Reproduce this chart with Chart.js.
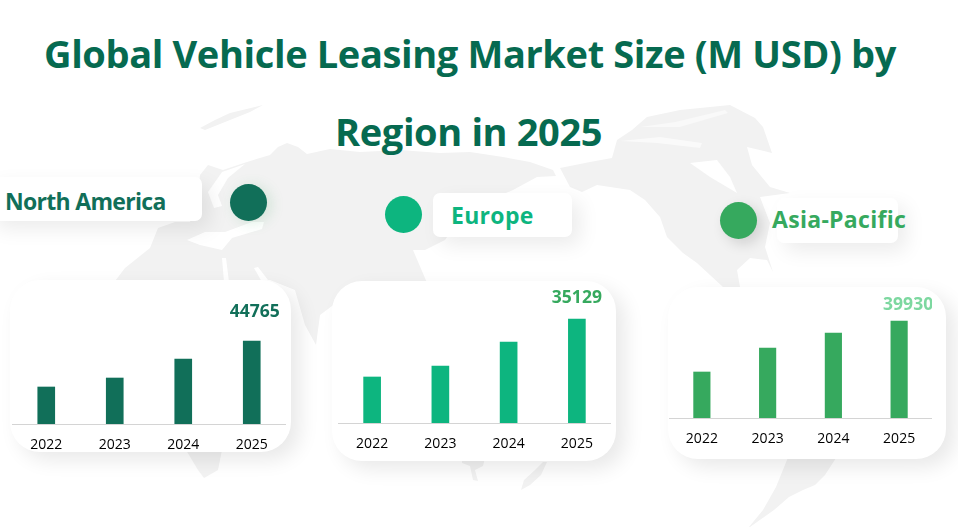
<!DOCTYPE html>
<html><head><meta charset="utf-8">
<script src="https://cdn.jsdelivr.net/npm/chart.js@4"></script>
<style>
html,body{margin:0;padding:0;background:#fff;overflow:hidden}
#root{position:relative;width:958px;height:527px;overflow:hidden;font-family:"Open Sans",sans-serif}
svg.map{position:absolute;left:0;top:0}
.t{position:absolute;white-space:nowrap;font-weight:700;color:#066a50;font-size:38px;line-height:52px;letter-spacing:-.37px}
.card{position:absolute;background:#fff;border-radius:30px;box-shadow:9px 8px 20px rgba(0,0,0,.09)}
.tag{position:absolute;background:#fff;border-radius:7px;box-shadow:8px 8px 20px rgba(0,0,0,.08)}
.lab{position:absolute;white-space:nowrap;font-weight:700;font-size:23px;line-height:30px}
.dot{position:absolute;width:37px;height:37px;border-radius:50%}
canvas{position:absolute}
</style></head><body>
<div id="root">
<svg class="map" width="958" height="527" viewBox="0 0 958 527">
<g fill="#f2f2f2">
<path d="M112 285L125 268 150 248 158 228 175 222 190 222 197 205 200 175 208 165 223 170 235 166 247 162 270 155 278 147 287 143 298 147 307 154 330 149 360 152 400 150 440 153 470 152 503 157 530 162 553 170 556 176 537 177 513 190 490 200 470 205 445 240 425 250 413 250 428 285 340 300 320 315 316 345 305 325 295 290 270 280Z"/>
<path d="M200 128L215 120 230 113 263 105 250 112 225 122 205 130Z"/>
<path d="M186 450L222 450 218 470 204 478 198 470Z"/>
<path d="M462 458L485 458 483 466 475 470 478 481 473 480 470 466 462 463Z"/>
<path d="M547 462L541 475 530 485 521 490 524 480 535 470 543 462Z"/>
<path d="M789 455L838 455 825 475 815 485 803 490 789 497 774 510 750 527 749 527 763 510 776 487Z"/>
<path d="M560 168L590 162 612 158 617 140 632 130 640 123 647 117 680 110 730 105 755 118 763 127 772 153 747 147 752 165 770 187 790 193 760 197 770 223 765 247 773 272 767 260 750 258 737 270 740 287 723 287 697 263 683 253 667 237 660 217 645 200 630 190 597 185 582 192 570 187Z"/>
</g>
<g fill="#fff">
<path d="M690 163L717 160 730 177 737 193 710 177Z"/>
<path d="M187 240L205 232 225 232 252 222 264 222 262 229 232 238 222 250 200 245Z"/>
<path d="M222 258L226 258 229 282 224 282Z"/>
<path d="M254 268L258 267 268 280 262 282Z"/>
<path d="M208 192L222 172 245 164 228 178 218 195 222 206 214 208Z"/>
<path d="M429 270H523V282H429Z"/>
<path d="M620 141L660 137 702 143 700 148 657 143Z" opacity=".6"/>
<path d="M640 127L675 122 725 110 728 113 680 127Z" opacity=".5"/>
</g>
</svg>
<div class="t" id="t1" style="left:44px;top:27px">Global Vehicle Leasing Market Size (M USD) by</div>
<div class="t" id="t2" style="left:335px;top:105px">Region in 2025</div>

<div class="tag" style="left:-12px;top:177px;width:214px;height:44px"></div>
<div class="tag" style="left:433px;top:193px;width:139px;height:44px"></div>
<div class="tag" style="left:777px;top:198px;width:121px;height:45px"></div>
<div class="lab" id="l1" style="left:5px;top:186px;color:#116f59;letter-spacing:-.7px">North America</div>
<div class="lab" id="l2" style="left:451px;top:200px;color:#0db57f;letter-spacing:.3px">Europe</div>
<div class="lab" id="l3" style="left:772px;top:204px;color:#36a95e;letter-spacing:.3px">Asia-Pacific</div>
<div class="dot" style="left:230px;top:184px;background:#116f59;box-shadow:4px 2px 14px rgba(54,169,94,.18)"></div>
<div class="dot" style="left:385px;top:196px;background:#0db57f"></div>
<div class="dot" style="left:720px;top:202px;background:#36a95e;box-shadow:5px 5px 14px rgba(0,0,0,.14)"></div>

<div class="card" style="left:10px;top:280px;width:281px;height:172px"></div>
<div class="card" style="left:332px;top:281px;width:284px;height:180px"></div>
<div class="card" style="left:668px;top:287px;width:278px;height:172px"></div>

<canvas id="c1" width="274" height="170" style="left:12px;top:284px"></canvas>
<canvas id="c2" width="273" height="170" style="left:338px;top:284px"></canvas>
<canvas id="c3" width="263" height="164" style="left:669px;top:284px"></canvas>
</div>
<script>
const years = ["2022","2023","2024","2025"];
const northAmerica = [19955,24800,35050,44765];
const europe = [15540,19250,27360,35129];
const asiaPacific = [18935,28815,34990,39930];

const valueLabel = {
  id:"valueLabel",
  afterDatasetsDraw(chart,args,o){
    const ds=chart.data.datasets[0], i=ds.data.length-1;
    const el=chart.getDatasetMeta(0).data[i];
    const c=chart.ctx; c.save();
    c.font='700 17.5px "Open Sans"'; c.fillStyle=o.color; c.textAlign="center"; c.textBaseline="middle";
    c.fillText(String(ds.data[i]),el.x+o.dx,el.y+o.dy); c.restore();
  }
};
function make(id,data,color,yMax,bar,lab,plotH){
  new Chart(document.getElementById(id),{
    type:"bar",
    plugins:[valueLabel],
    data:{labels:years,datasets:[{data,backgroundColor:color,barThickness:bar}]},
    options:{
      responsive:false,animation:false,devicePixelRatio:1,
      layout:{padding:0},
      plugins:{legend:{display:false},tooltip:{enabled:false},valueLabel:lab},
      scales:{
        y:{display:false,min:0,max:yMax},
        x:{
          grid:{display:false,drawTicks:false},
          border:{color:"#d4d4d4",width:1},
          ticks:{color:"#000",font:{family:"Open Sans",size:14},padding:13,maxRotation:0},
          afterFit(s){s.height=s.chart.height-plotH;}
        }
      }
    }
  });
}
make("c1",northAmerica,"#116f59",75507,17,{color:"#116f59",dx:3,dy:-29},140);
make("c2",europe,"#0db57f",46953,17,{color:"#36a95e",dx:0,dy:-21},139);
make("c3",asiaPacific,"#36a95e",55161,16.5,{color:"#7dd8a0",dx:9,dy:-16},134);
</script>
</body></html>
